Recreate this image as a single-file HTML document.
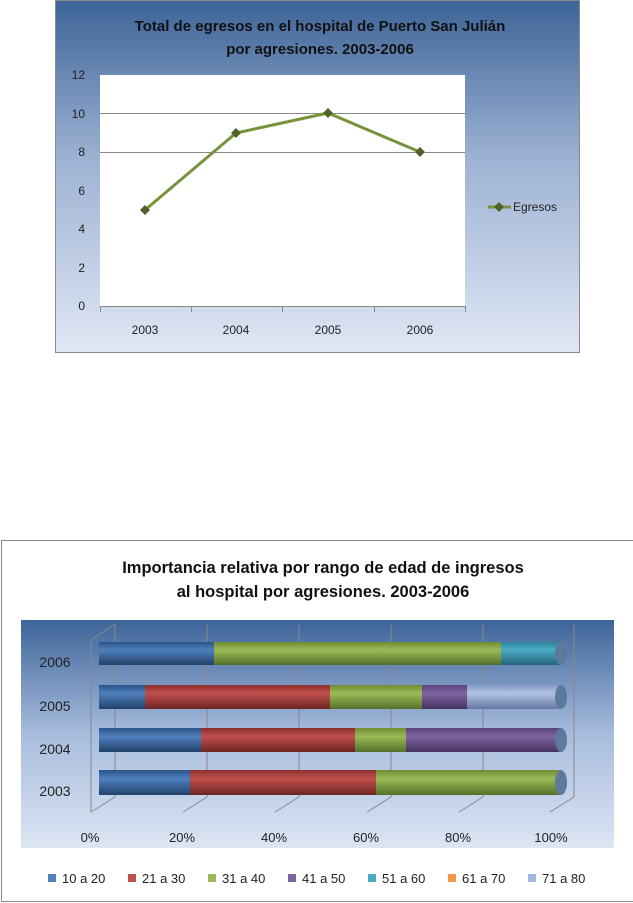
<!DOCTYPE html>
<html><head><meta charset="utf-8"><style>
body{margin:0;background:#fff;width:633px;height:903px;overflow:hidden}
svg{display:block}
text{font-family:"Liberation Sans","DejaVu Sans",sans-serif}
</style></head><body>
<svg width="633" height="903" viewBox="0 0 633 903" xmlns="http://www.w3.org/2000/svg">
<defs>
<linearGradient id="bg1" x1="0" y1="0" x2="0" y2="1">
<stop offset="0" stop-color="#3c6397"/><stop offset="0.45" stop-color="#9db2d3"/><stop offset="1" stop-color="#dfe7f4"/></linearGradient>
<linearGradient id="bg2" x1="0" y1="0" x2="0" y2="1">
<stop offset="0" stop-color="#3d6499"/><stop offset="0.5" stop-color="#a7bcdd"/><stop offset="1" stop-color="#dce5f3"/></linearGradient>
<linearGradient id="cb" x1="0" y1="0" x2="0" y2="1"><stop offset="0" stop-color="#2c5488"/><stop offset="0.35" stop-color="#4f81bd"/><stop offset="1" stop-color="#23416b"/></linearGradient>
<linearGradient id="cr" x1="0" y1="0" x2="0" y2="1"><stop offset="0" stop-color="#8c2f2d"/><stop offset="0.35" stop-color="#c0504d"/><stop offset="1" stop-color="#6e2422"/></linearGradient>
<linearGradient id="cg" x1="0" y1="0" x2="0" y2="1"><stop offset="0" stop-color="#6f8c33"/><stop offset="0.35" stop-color="#9bbb59"/><stop offset="1" stop-color="#55702a"/></linearGradient>
<linearGradient id="cp" x1="0" y1="0" x2="0" y2="1"><stop offset="0" stop-color="#5a4478"/><stop offset="0.35" stop-color="#8064a2"/><stop offset="1" stop-color="#45335e"/></linearGradient>
<linearGradient id="ct" x1="0" y1="0" x2="0" y2="1"><stop offset="0" stop-color="#2e8399"/><stop offset="0.35" stop-color="#4bacc6"/><stop offset="1" stop-color="#226476"/></linearGradient>
<linearGradient id="cl" x1="0" y1="0" x2="0" y2="1"><stop offset="0" stop-color="#8397c2"/><stop offset="0.35" stop-color="#b2c3e6"/><stop offset="1" stop-color="#6577a0"/></linearGradient>
</defs>

<!-- Chart 1 -->
<rect x="55.5" y="0.5" width="524" height="352" fill="url(#bg1)" stroke="#8a8a8a"/>
<text x="320" y="31" text-anchor="middle" font-size="15" font-weight="bold" fill="#111">Total de egresos en el hospital de Puerto San Julián</text>
<text x="320" y="54" text-anchor="middle" font-size="15" font-weight="bold" fill="#111">por agresiones. 2003-2006</text>
<rect x="100" y="75" width="365" height="231" fill="#fff"/>
<g stroke="#888" stroke-width="1">
<line x1="100" y1="113.5" x2="465" y2="113.5"/><line x1="100" y1="152.5" x2="465" y2="152.5"/>
<line x1="100" y1="306.5" x2="465" y2="306.5"/>
<line x1="100.5" y1="306" x2="100.5" y2="312"/><line x1="191.5" y1="306" x2="191.5" y2="312"/><line x1="282.5" y1="306" x2="282.5" y2="312"/><line x1="374.5" y1="306" x2="374.5" y2="312"/><line x1="465.5" y1="306" x2="465.5" y2="312"/>
</g>
<g font-size="12" fill="#222" text-anchor="end">
<text x="85" y="79">12</text><text x="85" y="118">10</text><text x="85" y="156">8</text><text x="85" y="195">6</text><text x="85" y="233">4</text><text x="85" y="272">2</text><text x="85" y="310">0</text>
</g>
<g font-size="12" fill="#222" text-anchor="middle">
<text x="145" y="334">2003</text><text x="236" y="334">2004</text><text x="328" y="334">2005</text><text x="420" y="334">2006</text>
</g>
<polyline points="145,210 236,133 328,113 420,152" fill="none" stroke="#77933c" stroke-width="3"/>
<g fill="#4f6228">
<path d="M145,205 l5,5 l-5,5 l-5,-5z"/><path d="M236,128 l5,5 l-5,5 l-5,-5z"/><path d="M328,108 l5,5 l-5,5 l-5,-5z"/><path d="M420,147 l5,5 l-5,5 l-5,-5z"/>
<line x1="488" y1="207" x2="511" y2="207" stroke="#77933c" stroke-width="3"/>
<path d="M499,202 l5,5 l-5,5 l-5,-5z"/>
</g>
<text x="513" y="211" font-size="12" fill="#222">Egresos</text>

<!-- Chart 2 -->
<rect x="1.5" y="540.5" width="640" height="361" fill="#fff" stroke="#8a8a8a"/>
<text x="323" y="573" text-anchor="middle" font-size="16.5" font-weight="bold" fill="#111">Importancia relativa por rango de edad de ingresos</text>
<text x="323" y="597" text-anchor="middle" font-size="16.5" font-weight="bold" fill="#111">al hospital por agresiones. 2003-2006</text>
<rect x="21" y="620" width="593" height="228" fill="url(#bg2)"/>
<g stroke="#888" stroke-width="1" fill="none">
<line x1="115" y1="624" x2="115" y2="797"/><line x1="207" y1="624" x2="207" y2="797"/><line x1="299" y1="624" x2="299" y2="797"/><line x1="391" y1="624" x2="391" y2="797"/><line x1="483" y1="624" x2="483" y2="797"/><line x1="574" y1="624" x2="574" y2="797"/>
<line x1="91" y1="640" x2="91" y2="812"/><line x1="91" y1="640" x2="115" y2="624"/>
<line x1="115" y1="797" x2="91" y2="812"/><line x1="207" y1="797" x2="183" y2="812"/><line x1="299" y1="797" x2="275" y2="812"/><line x1="391" y1="797" x2="367" y2="812"/><line x1="483" y1="797" x2="459" y2="812"/><line x1="574" y1="797" x2="550" y2="812"/>
</g>
<g font-size="14" fill="#222" text-anchor="middle">
<text x="55" y="667">2006</text><text x="55" y="711">2005</text><text x="55" y="754">2004</text><text x="55" y="796">2003</text>
</g>
<g font-size="13" fill="#222" text-anchor="middle">
<text x="90" y="842">0%</text><text x="182" y="842">20%</text><text x="274" y="842">40%</text><text x="366" y="842">60%</text><text x="458" y="842">80%</text><text x="551" y="842">100%</text>
</g>
<g>
<rect x="99" y="642" width="115" height="23" fill="url(#cb)"/>
<rect x="214" y="642" width="287" height="23" fill="url(#cg)"/>
<rect x="501" y="642" width="60" height="23" fill="url(#ct)"/>
<ellipse cx="561" cy="653.5" rx="6" ry="11.5" fill="#5d7a9c"/>

<rect x="99" y="685" width="46" height="24" fill="url(#cb)"/>
<rect x="145" y="685" width="185" height="24" fill="url(#cr)"/>
<rect x="330" y="685" width="92" height="24" fill="url(#cg)"/>
<rect x="422" y="685" width="45" height="24" fill="url(#cp)"/>
<rect x="467" y="685" width="94" height="24" fill="url(#cl)"/>
<ellipse cx="561" cy="697" rx="6" ry="12" fill="#5d7a9c"/>

<rect x="99" y="728" width="102" height="24" fill="url(#cb)"/>
<rect x="201" y="728" width="154" height="24" fill="url(#cr)"/>
<rect x="355" y="728" width="51" height="24" fill="url(#cg)"/>
<rect x="406" y="728" width="155" height="24" fill="url(#cp)"/>
<ellipse cx="561" cy="740" rx="6" ry="12" fill="#5d7a9c"/>

<rect x="99" y="770" width="91" height="25" fill="url(#cb)"/>
<rect x="190" y="770" width="186" height="25" fill="url(#cr)"/>
<rect x="376" y="770" width="185" height="25" fill="url(#cg)"/>
<ellipse cx="561" cy="782.5" rx="6" ry="12.5" fill="#5d7a9c"/>
</g>
<g font-size="13" fill="#222">
<rect x="48" y="874" width="8" height="8" fill="#4f81bd"/><text x="62" y="883">10 a 20</text>
<rect x="128" y="874" width="8" height="8" fill="#c0504d"/><text x="142" y="883">21 a 30</text>
<rect x="208" y="874" width="8" height="8" fill="#9bbb59"/><text x="222" y="883">31 a 40</text>
<rect x="288" y="874" width="8" height="8" fill="#8064a2"/><text x="302" y="883">41 a 50</text>
<rect x="368" y="874" width="8" height="8" fill="#4bacc6"/><text x="382" y="883">51 a 60</text>
<rect x="448" y="874" width="8" height="8" fill="#f79646"/><text x="462" y="883">61 a 70</text>
<rect x="528" y="874" width="8" height="8" fill="#a5b7dd"/><text x="542" y="883">71 a 80</text>
</g>
</svg>
</body></html>
